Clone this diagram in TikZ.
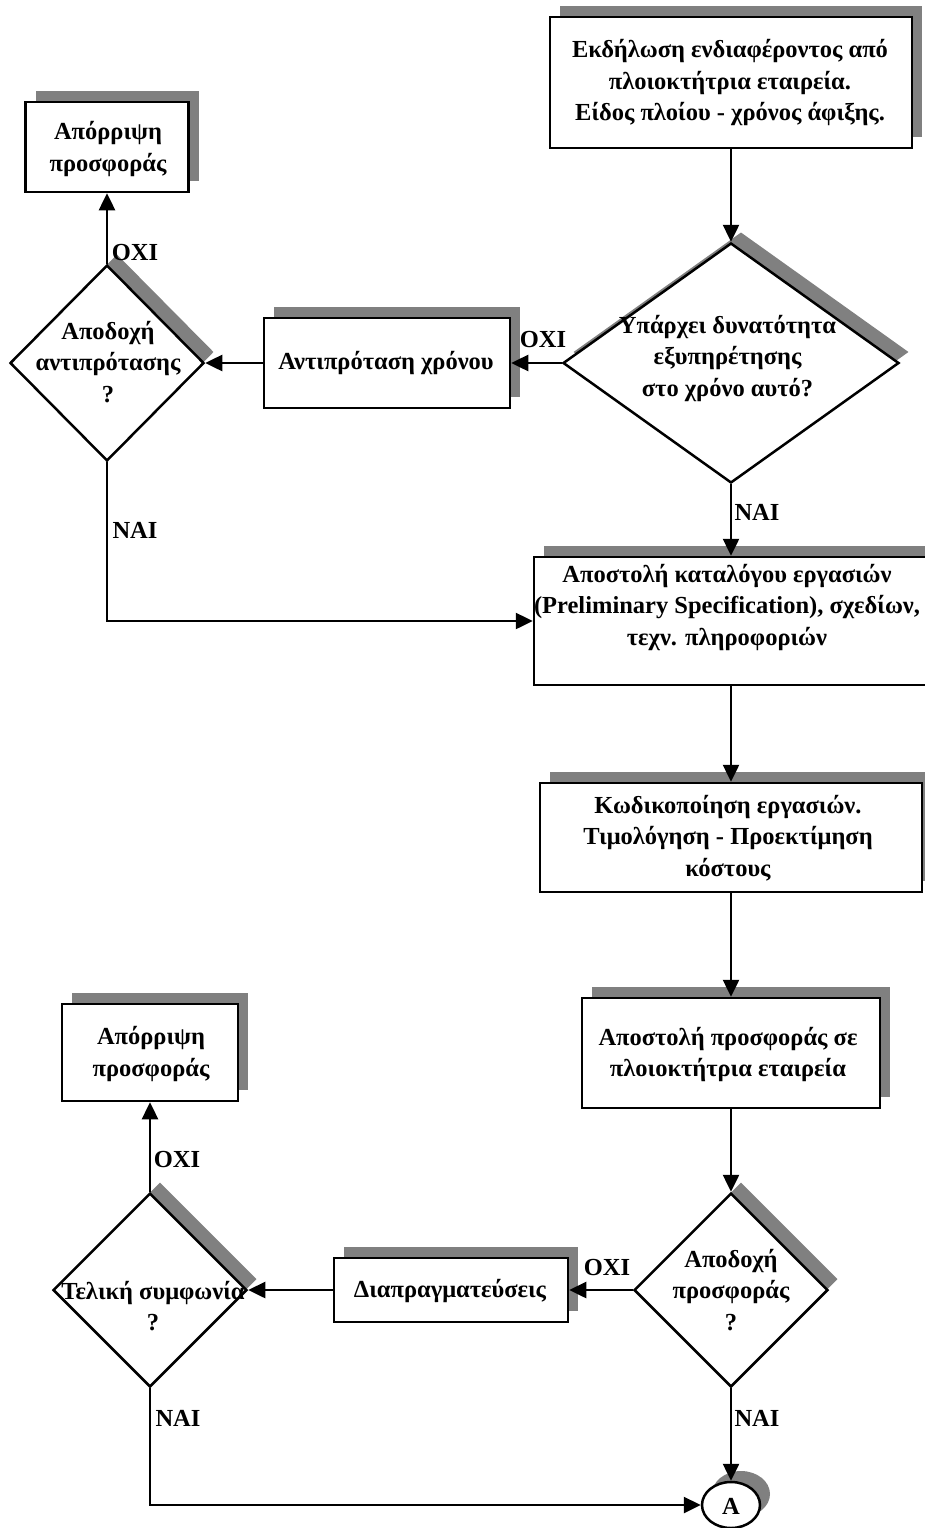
\documentclass[tikz,border=0pt]{standalone}
\usepackage{fontspec}
\setmainfont{Liberation Serif}
\usetikzlibrary{arrows.meta,shapes.geometric,shadows}
\definecolor{shadowgray}{RGB}{128,128,128}

\begin{document}
\begin{tikzpicture}[x=1pt,y=-1pt,
  line width=2.5pt,
  font=\fontsize{24.5}{31.5}\selectfont\bfseries,
  dropshade/.style={general shadow={shadow xshift=10pt,shadow yshift=11pt,fill=shadowgray}},
  procbox/.style={draw,fill=white,rectangle,inner sep=0pt,dropshade},
  decision/.style={draw,fill=white,diamond,inner sep=0pt,dropshade},
  connector/.style={draw,fill=white,ellipse,inner sep=0pt,dropshade},
  txt/.style={align=center,inner sep=0pt},
  lbl/.style={inner sep=0pt},
  flow/.style={-{Triangle[length=17pt,width=16pt]},line width=2.5pt},
]
\useasboundingbox (0,0) rectangle (925,1528);

% process boxes
\node[procbox,minimum width=362pt,minimum height=131pt] (b1) at (731,82.5) {};
\node[procbox,minimum width=163pt,minimum height=90pt]  (b2) at (107,147) {};
\node[procbox,minimum width=246pt,minimum height=90pt]  (b3) at (387,363) {};
\node[procbox,minimum width=394pt,minimum height=128pt] (b4) at (731,621) {};
\node[procbox,minimum width=382pt,minimum height=109pt] (b5) at (731,837.5) {};
\node[procbox,minimum width=298pt,minimum height=110pt] (b6) at (731,1053) {};
\node[procbox,minimum width=234pt,minimum height=64pt]  (b7) at (451,1290) {};
\node[procbox,minimum width=176pt,minimum height=97pt]  (b8) at (150,1052.5) {};

% decisions
\node[decision,minimum width=336pt,minimum height=240pt] (d1) at (731,363) {};
\node[decision,minimum width=194pt,minimum height=196pt] (d2) at (107,363) {};
\node[decision,minimum width=194pt,minimum height=194pt] (d3) at (731,1290) {};
\node[decision,minimum width=194pt,minimum height=194pt] (d4) at (150,1290) {};

% off-page connector
\node[connector,minimum width=58pt,minimum height=46pt] (a) at (731,1505) {};

% texts
\node[txt] (t1) at (730,83) {Εκδήλωση ενδιαφέροντος από\\πλοιοκτήτρια εταιρεία.\\Είδος πλοίου - χρόνος άφιξης.};
\node[txt] (t2) at (108,149) {Απόρριψη\\προσφοράς};
\node[txt] (t3) at (386,363) {Αντιπρόταση χρόνου};
\node[txt] (t4) at (727,607) {Αποστολή καταλόγου εργασιών\\(Preliminary Specification), σχεδίων,\\τεχν. πληροφοριών};
\node[txt] (t5) at (728,838) {Κωδικοποίηση εργασιών.\\Τιμολόγηση - Προεκτίμηση\\κόστους};
\node[txt] (t6) at (728,1054.5) {Αποστολή προσφοράς σε\\πλοιοκτήτρια εταιρεία};
\node[txt] (t7) at (450,1291) {Διαπραγματεύσεις};
\node[txt] (t8) at (151,1054) {Απόρριψη\\προσφοράς};
\node[txt] (td1) at (727.5,358) {Υπάρχει δυνατότητα\\εξυπηρέτησης\\στο χρόνο αυτό?};
\node[txt] (td2) at (108,362) {Αποδοχή\\αντιπρότασης\\?};
\node[txt] (td3) at (731,1290) {Αποδοχή\\προσφοράς\\?};
\node[txt] (td4) at (153,1306) {Τελική συμφωνία\\?};
\node[txt] (ta) at (731,1506) {Α};

% connectors
\draw[flow] (b1.south) -- (d1.north);
\draw[flow] (d1.west) -- (d1.west -| b3.east);
\draw[flow] (b3.west) -- (b3.west -| d2.east);
\draw[flow] (d2.north) -- (d2.north |- b2.south);
\draw[flow] (d2.south) |- (b4.west);
\draw[flow] (d1.south) -- (b4.north);
\draw[flow] (b4.south) -- (b5.north);
\draw[flow] (b5.south) -- (b6.north);
\draw[flow] (b6.south) -- (d3.north);
\draw[flow] (d3.west) -- (d3.west -| b7.east);
\draw[flow] (b7.west) -- (b7.west -| d4.east);
\draw[flow] (d4.north) -- (d4.north |- b8.south);
\draw[flow] (d4.south) |- (a.west);
\draw[flow] (d3.south) -- (a.north);

% branch labels
\node[lbl] (n1) at (543,340) {ΟΧΙ};
\node[lbl] (n2) at (135,253) {ΟΧΙ};
\node[lbl] (y1) at (757,512) {ΝΑΙ};
\node[lbl] (y2) at (135,530) {ΝΑΙ};
\node[lbl] (n3) at (607,1267) {ΟΧΙ};
\node[lbl] (n4) at (177,1159) {ΟΧΙ};
\node[lbl] (y3) at (757,1418) {ΝΑΙ};
\node[lbl] (y4) at (178,1418) {ΝΑΙ};
\end{tikzpicture}
\end{document}
